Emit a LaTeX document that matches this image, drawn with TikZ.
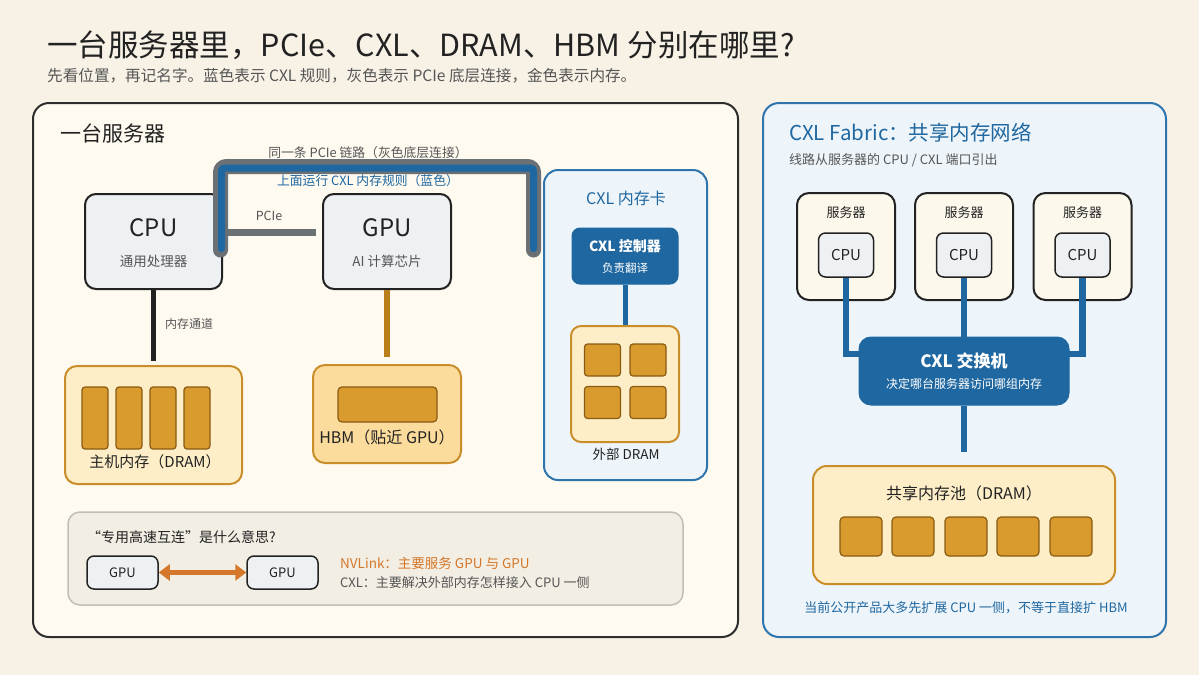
\documentclass[tikz,border=0pt]{standalone}
\usepackage{fontspec}
\setmainfont{Noto Sans CJK SC}
\usetikzlibrary{arrows.meta,calc}
\definecolor{bg}{HTML}{F8F2E6}
\definecolor{ink}{HTML}{222222}
\definecolor{gtext}{HTML}{555555}
\definecolor{panelL}{HTML}{FFFAF0}
\definecolor{panelR}{HTML}{EEF5FA}
\definecolor{bline}{HTML}{2E74AD}
\definecolor{bdark}{HTML}{1F67A0}
\definecolor{glink}{HTML}{6B7075}
\definecolor{chipbg}{HTML}{EEF1F3}
\definecolor{memfill}{HTML}{FDEEC8}
\definecolor{hbmfill}{HTML}{FCDC9C}
\definecolor{memline}{HTML}{C98E2A}
\definecolor{chipfill}{HTML}{D99A2E}
\definecolor{chipline}{HTML}{8A5B12}
\definecolor{hbmlink}{HTML}{B97F1B}
\definecolor{noteFill}{HTML}{F3EEE3}
\definecolor{noteLine}{HTML}{C2BEB4}
\definecolor{orng}{HTML}{D4772A}
\definecolor{srvfill}{HTML}{FDF8EC}
\newcommand\fsz[1]{\fontsize{#1}{#1}\selectfont}
\tikzset{
  txt/.style={inner sep=0, text=ink},
  rbox/.style={inner sep=0, draw=ink, fill=chipbg, line width=2, rounded corners=11},
  membox/.style={inner sep=0, draw=memline, fill=memfill, line width=2, rounded corners=12},
  chip/.style={inner sep=0, draw=chipline, fill=chipfill, line width=1.2, rounded corners=3},
  darkbox/.style={inner sep=0, draw=bdark, fill=bdark, line width=1, rounded corners=10},
  bluelink/.style={draw=bdark, line width=6.5},
}
\begin{document}
\begin{tikzpicture}[x=1pt,y=-1pt]
\useasboundingbox (0,0) rectangle (1199,675);
\fill[bg] (0,0) rectangle (1199,675);

% titles
\node[txt, anchor=west, font=\fsz{30.5}] (title) at (47,45) {一台服务器里，PCIe、CXL、DRAM、HBM 分别在哪里?};
\node[txt, anchor=west, font=\fsz{15.6}, text=gtext] (subtitle) at (47,76) {先看位置，再记名字。蓝色表示 CXL 规则，灰色表示 PCIe 底层连接，金色表示内存。};

% panels
\node[inner sep=0, draw=ink!95, fill=panelL, line width=2, rounded corners=16, minimum width=705, minimum height=534] (srv) at (385.5,370) {};
\node[inner sep=0, draw=bline, fill=panelR, line width=2, rounded corners=16, minimum width=403, minimum height=534] (fab) at (964.5,370) {};

% left panel
\node[txt, anchor=west, font=\fsz{21}] (srvT) at (60,133) {一台服务器};

\node[rbox, minimum width=137, minimum height=95] (cpu) at (153.5,241.5) {};
\node[txt, font=\fsz{24}] (cpuT) at (153.5,228) {CPU};
\node[txt, font=\fsz{13.5}, text=gtext] (cpuS) at (153.5,261) {通用处理器};

\node[rbox, minimum width=128, minimum height=95] (gpu) at (387,241.5) {};
\node[txt, font=\fsz{24}] (gpuT) at (387,228) {GPU};
\node[txt, font=\fsz{13.5}, text=gtext] (gpuS) at (387,261) {AI 计算芯片};

% host DRAM
\node[membox, minimum width=177, minimum height=118] (dram) at (153.5,425) {};
\foreach \i/\x in {1/95,2/129,3/163,4/197}
  \node[chip, minimum width=26, minimum height=62] (dc\i) at (\x,418) {};
\node[txt, font=\fsz{15}] (dramT) at (155,462) {主机内存（DRAM）};
\draw[ink, line width=5.5, shorten >=4] (cpu.south) -- (dram.north);
\node[txt, anchor=west, font=\fsz{12}, text=gtext] (chanT) at (165,324) {内存通道};

% HBM
\node[membox, fill=hbmfill, minimum width=148, minimum height=98] (hbm) at (387,414) {};
\node[chip, rounded corners=4, minimum width=99, minimum height=35] (hbmbar) at (387.5,404.5) {};
\node[txt, font=\fsz{16}] (hbmT) at (387,437) {HBM（贴近 GPU）};
\draw[hbmlink, line width=6, shorten >=7] (gpu.south) -- (hbm.north);

% CXL memory card
\node[inner sep=0, draw=bline, fill=panelR, line width=2, rounded corners=14, minimum width=163, minimum height=310] (card) at (625.5,325) {};
\node[txt, font=\fsz{16}, text=bdark] (cardT) at (626,198) {CXL 内存卡};
\node[darkbox, rounded corners=8, minimum width=106, minimum height=56] (ctrl) at (625,256) {};
\node[txt, font=\bfseries\fsz{14}, text=white] (ctrlT) at (625,246) {CXL 控制器};
\node[txt, font=\fsz{11.5}, text=white] (ctrlS) at (625,268) {负责翻译};
\node[membox, rounded corners=10, minimum width=108, minimum height=116] (edram) at (625,384) {};
\draw[bdark, line width=5] (ctrl.south) -- (edram.north);
\foreach \i/\x/\y in {1/602.5/360,2/648/360,3/602.5/402.5,4/648/402.5}
  \node[chip, minimum width=36, minimum height=32] (ec\i) at (\x,\y) {};
\node[txt, font=\fsz{13.5}] (edramT) at (626,454) {外部 DRAM};

% PCIe link
\coordinate (l1) at (220.5,250);
\coordinate (l2) at (220.5,166.5);
\coordinate (l3) at (533.5,166.5);
\coordinate (l4) at (533.5,250);
\draw[glink, line width=15, line cap=round, rounded corners=6] (l1) -- (l2) -- (l3) -- (l4);
\coordinate (b1) at (221.5,248.5);
\coordinate (b2) at (221.5,168);
\coordinate (b3) at (533.5,168);
\coordinate (b4) at (533.5,248.5);
\draw[bdark, line width=7, line cap=round, rounded corners=3] (b1) -- (b2) -- (b3) -- (b4);
\coordinate (p1) at (226,232.5);
\draw[glink, line width=7, shorten >=6] (p1) -- (p1 -| gpu.west);
\node[txt, font=\fsz{12.5}, text=gtext] (pcieT) at (269,216) {PCIe};
\node[txt, font=\fsz{12.8}, text=gtext] (linkT) at (368,153) {同一条 PCIe 链路（灰色底层连接）};
\node[txt, font=\fsz{12.8}, text=bdark] (cxlT) at (368,181) {上面运行 CXL 内存规则（蓝色）};

% note box
\node[inner sep=0, draw=noteLine, fill=noteFill, line width=1.5, rounded corners=12, minimum width=615, minimum height=93] (note) at (375.5,558.5) {};
\node[txt, anchor=west, font=\fsz{14}] (noteT) at (87,537) {“专用高速互连”是什么意思?};
\node[rbox, line width=1.5, rounded corners=7, minimum width=71, minimum height=33] (g1) at (122.5,572.5) {};
\node[txt, font=\fsz{13}] at (g1) {GPU};
\node[rbox, line width=1.5, rounded corners=7, minimum width=71, minimum height=33] (g2) at (282.5,572.5) {};
\node[txt, font=\fsz{13}] at (g2) {GPU};
\draw[orng, line width=5, {Triangle[length=11,width=16]}-{Triangle[length=11,width=16]}] (g1.east) -- (g2.west);
\node[txt, anchor=west, font=\fsz{13.5}, text=orng] (nvT) at (340,563) {NVLink：主要服务 GPU 与 GPU};
\node[txt, anchor=west, font=\fsz{13}, text=gtext] (cxT) at (340,583) {CXL：主要解决外部内存怎样接入 CPU 一侧};

% right panel
\node[txt, anchor=west, font=\fsz{20.5}, text=bdark] (fabT) at (789,133) {CXL Fabric：共享内存网络};
\node[txt, anchor=west, font=\fsz{13}, text=gtext] (fabS) at (789,160) {线路从服务器的 CPU / CXL 端口引出};

\foreach \i/\x in {1/846,2/964,3/1082.5}{
  \node[rbox, fill=srvfill, rounded corners=12, minimum width=98, minimum height=107] (s\i) at (\x,246.5) {};
  \node[txt, font=\fsz{13}] (s\i T) at (\x,213) {服务器};
  \node[rbox, line width=1.5, rounded corners=7, minimum width=55, minimum height=44] (c\i) at (\x,255) {};
  \node[txt, font=\fsz{15}] (c\i T) at (c\i) {CPU};
}
\node[darkbox, rounded corners=12, minimum width=210, minimum height=68] (sw) at (964,371) {};
\coordinate (j1) at (860,354);
\coordinate (j3) at (1068,354);
\draw[bluelink] (c1.south) |- (j1);
\draw[bluelink] (c2.south) -- (c2.south |- sw.north);
\draw[bluelink] (c3.south) |- (j3);
\node[txt, font=\bfseries\fsz{17}, text=white] (swT) at (964,361) {CXL 交换机};
\node[txt, font=\fsz{12}, text=white] (swS) at (964,384) {决定哪台服务器访问哪组内存};

\node[membox, rounded corners=14, minimum width=302, minimum height=118] (pool) at (964,525) {};
\draw[bluelink, shorten >=13] (sw.south) -- (pool.north);
\node[txt, font=\fsz{16}] (poolT) at (964,493) {共享内存池（DRAM）};
\foreach \i/\x in {1/861,2/913,3/966,4/1018,5/1071}
  \node[chip, rounded corners=4, minimum width=42, minimum height=39] (pc\i) at (\x,536.5) {};
\node[txt, font=\fsz{13}, text=bdark] (footT) at (966,608) {当前公开产品大多先扩展 CPU 一侧，不等于直接扩 HBM};
\end{tikzpicture}
\end{document}
